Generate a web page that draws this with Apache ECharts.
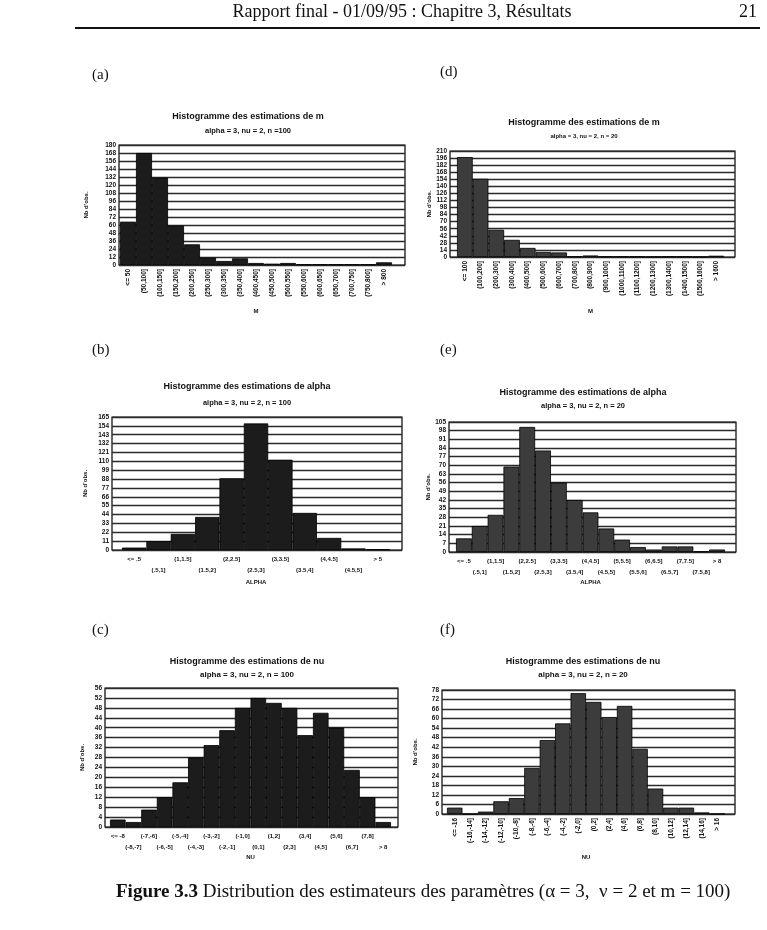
<!DOCTYPE html>
<html><head><meta charset="utf-8">
<script src="https://cdn.jsdelivr.net/npm/echarts@6/dist/echarts.min.js"></script>
<style>html,body{margin:0;padding:0;background:#fff}#c{width:767px;height:930px}</style>
</head><body><div id="c"></div>
<script>
// ---------- DATA ----------
const catA = ['<= 50','(50,100]','(100,150]','(150,200]','(200,250]','(250,300]','(300,350]','(350,400]','(400,450]','(450,500]','(500,550]','(550,600]','(600,650]','(650,700]','(700,750]','(750,800]','> 800'];
const valA = [65,168,131,59,31,11,6,10,3,2,3,1,1,1,1,1,4];

const catD = ['<= 100','(100,200]','(200,300]','(300,400]','(400,500]','(500,600]','(600,700]','(700,800]','(800,900]','(900,1000]','(1000,1100]','(1100,1200]','(1200,1300]','(1300,1400]','(1400,1500]','(1500,1600]','> 1600'];
const valD = [198,155,54,34,18,10,9,1,3,1,1,1,0.5,1,1,0.5,2.5];

const catB = ['<= .5','(.5,1]','(1,1.5]','(1.5,2]','(2,2.5]','(2.5,3]','(3,3.5]','(3.5,4]','(4,4.5]','(4.5,5]','> 5'];
const valB = [3,11,20,41,89,157,112,46,15,2,1];

const catE = ['<= .5','(.5,1]','(1,1.5]','(1.5,2]','(2,2.5]','(2.5,3]','(3,3.5]','(3.5,4]','(4,4.5]','(4.5,5]','(5,5.5]','(5.5,6]','(6,6.5]','(6.5,7]','(7,7.5]','(7.5,8]','> 8'];
const valE = [11,21,30,69,101,82,56,42,32,19,10,4,2,4.5,4.5,0.5,2];

const catC = ['<= -8','(-8,-7]','(-7,-6]','(-6,-5]','(-5,-4]','(-4,-3]','(-3,-2]','(-2,-1]','(-1,0]','(0,1]','(1,2]','(2,3]','(3,4]','(4,5]','(5,6]','(6,7]','(7,8]','> 8'];
const valC = [3,2,7,12,18,28,33,39,48,52,50,48,37,46,40,23,12,2];

const catF = ['<= -16','(-16,-14]','(-14,-12]','(-12,-10]','(-10,-8]','(-8,-6]','(-6,-4]','(-4,-2]','(-2,0]','(0,2]','(2,4]','(4,6]','(6,8]','(8,10]','(10,12]','(12,14]','(14,16]','> 16'];
const valF = [4,0,1.5,8,10,29,46.5,57,76,70.5,61,68,41,16,4,4,1,0];

const yMaxes = [180, 210, 165, 105, 56, 78];
const yIntervals = [12, 14, 11, 7, 4, 6];

const titles = ['Histogramme des estimations de m','Histogramme des estimations de m','Histogramme des estimations de alpha','Histogramme des estimations de alpha','Histogramme des estimations de nu','Histogramme des estimations de nu'];
const subtitles = ['alpha = 3, nu = 2, n =100','alpha = 3, nu = 2, n = 20','alpha = 3, nu = 2, n = 100','alpha = 3, nu = 2, n = 20','alpha = 3, nu = 2, n = 100','alpha = 3, nu = 2, n = 20'];
const xNames = ['M','M','ALPHA','ALPHA','NU','NU'];
const panelLabels = ['(a)','(d)','(b)','(e)','(c)','(f)'];
const yName = "Nb d'obs.";
const headerText = 'Rapport final - 01/09/95 : Chapitre 3, Résultats';
const pageNumber = '21';
const captionBold = 'Figure 3.3';
const captionRest = ' Distribution des estimateurs des paramètres (α = 3,  ν = 2 et m = 100)';

// ---------- LAYOUT (positions / styles only) ----------
const charts = [
  {cats:catA, vals:valA, frame:[119,145,405,265], bars:[120,392], rot:true, yGap:30, xGap:43, tx:248, ty:[117,131], tf:[9,7.5], panel:[92,75], dark:true},
  {cats:catD, vals:valD, frame:[450,151,735,257], bars:[457,724], rot:true, yGap:11, xGap:51, tx:584, ty:[123,136], tf:[9,6], panel:[440,72], dark:false},
  {cats:catB, vals:valB, frame:[112,417,402,550], bars:[122,390], rot:false, yGap:24, xGap:29, tx:247, ty:[387,403], tf:[9,7.5], panel:[92,350], dark:true},
  {cats:catE, vals:valE, frame:[449,422,736,552], bars:[456,725], rot:false, yGap:11, xGap:27, tx:583, ty:[393,406], tf:[9,7.5], panel:[440,350], dark:false},
  {cats:catC, vals:valC, frame:[105,688,398,827], bars:[110,391], rot:false, yGap:20, xGap:26, tx:247, ty:[662,675], tf:[9,8], panel:[92,630], dark:true},
  {cats:catF, vals:valF, frame:[442,690,735,814], bars:[447,725], rot:true, yGap:24, xGap:40, tx:583, ty:[662,675], tf:[9,8], panel:[440,630], dark:false}
];

const sans = "'Liberation Sans', Arial, sans-serif";
const serif = "'Liberation Serif', 'Times New Roman', serif";

const grid = [], xAxis = [], yAxis = [], series = [], graphic = [];

charts.forEach((c, i) => {
  const [fl, ft, fr, fb] = c.frame;
  const g0 = 2*i, g1 = 2*i+1;
  grid.push({left: fl, top: ft, width: fr-fl, height: fb-ft, show: true, borderColor: '#000', borderWidth: 1.2, backgroundColor: 'transparent'});
  grid.push({left: c.bars[0], top: ft, width: c.bars[1]-c.bars[0], height: fb-ft});
  xAxis.push({gridIndex: g0, type: 'category', data: [''], show: false});
  yAxis.push({gridIndex: g0, type: 'value', min: 0, max: yMaxes[i], interval: yIntervals[i],
    axisLine: {show: false}, axisTick: {show: false},
    axisLabel: {fontSize: 6.5, color: '#111', fontFamily: sans, fontWeight: 'bold', margin: 3, showMinLabel: true, showMaxLabel: true},
    splitLine: {show: true, lineStyle: {color: '#2a2a2a', width: 1.4}},
    name: yName, nameLocation: 'middle', nameRotate: 90, nameGap: c.yGap,
    nameTextStyle: {fontSize: 6, color: '#111', fontFamily: sans, fontWeight: 'bold'}});
  xAxis.push({gridIndex: g1, type: 'category', data: c.cats, boundaryGap: true,
    axisLine: {show: false}, axisTick: {show: false},
    axisLabel: c.rot
      ? {interval: 0, rotate: 90, fontSize: 6.5, color: '#111', fontFamily: sans, fontWeight: 'bold', margin: 4}
      : {interval: 0, fontSize: 6, color: '#111', fontFamily: sans, fontWeight: 'bold', margin: 4, lineHeight: 11,
         formatter: (v, idx) => (idx % 2 ? '\n' + v : v)},
    name: xNames[i], nameLocation: 'middle', nameGap: c.xGap,
    nameTextStyle: {fontSize: 6, color: '#111', fontFamily: sans, fontWeight: 'bold', verticalAlign: 'top'}});
  yAxis.push({gridIndex: g1, type: 'value', min: 0, max: yMaxes[i], show: false, splitLine: {show: false}});
  series.push({type: 'bar', xAxisIndex: g1, yAxisIndex: g1, data: c.vals, barCategoryGap: '0%',
    itemStyle: {color: c.dark ? '#1c1c1c' : '#3c3c3c', borderColor: '#000', borderWidth: 0.8},
    silent: true, animation: false});

  graphic.push({type: 'text', x: c.tx, y: c.ty[0], style: {text: titles[i], font: `bold ${c.tf[0]}px ${sans}`, fill: '#111', align: 'center', verticalAlign: 'middle'}});
  graphic.push({type: 'text', x: c.tx, y: c.ty[1], style: {text: subtitles[i], font: `bold ${c.tf[1]}px ${sans}`, fill: '#111', align: 'center', verticalAlign: 'middle'}});
  graphic.push({type: 'text', x: c.panel[0], y: c.panel[1], style: {text: panelLabels[i], font: `15px ${serif}`, fill: '#111', align: 'left', verticalAlign: 'middle'}});
});

graphic.push({type: 'text', x: 402, y: 12, style: {text: headerText, font: `18px ${serif}`, fill: '#111', align: 'center', verticalAlign: 'middle'}});
graphic.push({type: 'text', x: 757, y: 12, style: {text: pageNumber, font: `18px ${serif}`, fill: '#111', align: 'right', verticalAlign: 'middle'}});
graphic.push({type: 'line', shape: {x1: 75, y1: 28, x2: 760, y2: 28}, style: {stroke: '#111', lineWidth: 2}});
graphic.push({type: 'text', x: 116, y: 892, style: {
  text: '{b|' + captionBold + '}' + captionRest,
  font: `19px ${serif}`, fill: '#111', align: 'left', verticalAlign: 'middle',
  rich: {b: {fontWeight: 'bold', fontSize: 19, fontFamily: serif}}}});

const chart = echarts.init(document.getElementById('c'), null, {renderer: 'canvas'});
chart.setOption({animation: false, backgroundColor: '#fff', grid, xAxis, yAxis, series, graphic});
</script></body></html>
